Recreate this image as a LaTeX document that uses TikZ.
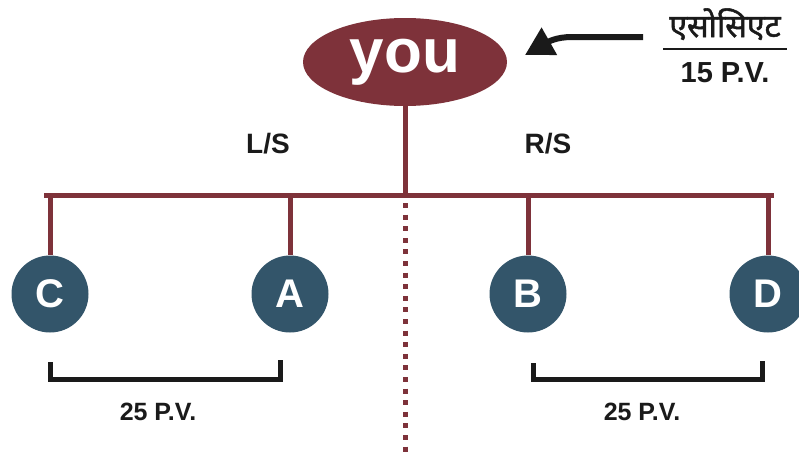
\documentclass[tikz,border=0pt]{standalone}
\usepackage{fontspec}
\setmainfont{Liberation Sans}
\newfontfamily\devfont[Script=Devanagari,FakeBold=1.6]{Noto Sans}
\usetikzlibrary{shapes.geometric,arrows.meta}
\definecolor{maroon}{HTML}{7E323A}
\definecolor{teal}{HTML}{33556A}
\definecolor{ink}{HTML}{1A1A1A}
\tikzset{
  x=1pt,y=-1pt,
  trunk/.style={draw=maroon,line width=5pt},
  dotline/.style={draw=maroon,line width=5pt,dash pattern=on 5pt off 6.6pt},
  member/.style={circle,fill=teal,minimum size=77pt,inner sep=0pt,text=white,font=\fontsize{40}{40}\selectfont\bfseries},
  bracket/.style={draw=ink,line width=5pt},
  lbl/.style={text=ink,font=\fontsize{25}{25}\selectfont\bfseries,inner sep=0pt},
  sidelbl/.style={text=ink,font=\fontsize{28}{28}\selectfont\bfseries,inner sep=0pt}
}
\begin{document}
\begin{tikzpicture}
\useasboundingbox (0,0) rectangle (799,453);
\node[ellipse,fill=maroon,minimum width=204pt,minimum height=88pt,inner sep=0pt,text=white,font=\fontsize{62}{62}\selectfont\bfseries] (you) at (405,62) {};
\node[text=white,font=\fontsize{62}{62}\selectfont\bfseries,inner sep=0pt,anchor=base] (youtxt) at (405,72) {you};
\coordinate (J) at (405,195);
\coordinate (BL) at (44,195);
\coordinate (BR) at (774,195);
\node[member] (C) at (50,294) {C};
\node[member] (A) at (290,294) {A};
\node[member] (B) at (528,294) {B};
\node[member] (D) at (768,294) {D};
\draw[trunk] (you.south) -- (J);
\draw[trunk] (BL) -- (BR);
\draw[trunk] (C|-J) -- (C);
\draw[trunk] (A|-J) -- (A);
\draw[trunk] (B|-J) -- (B);
\draw[trunk] (D|-J) -- (D);
\coordinate (DT) at (405,203);
\coordinate (DB) at (405,453);
\draw[dotline] (DT) -- (DB);
\node[sidelbl] (LS) at (268,144) {L/S};
\node[sidelbl] (RS) at (548,144) {R/S};
% brackets
\coordinate (b1a) at (50,362); \coordinate (b1b) at (50,379);
\coordinate (b1c) at (280,379); \coordinate (b1d) at (280,360);
\draw[bracket] (b1a) -- (b1b) -- (b1c) -- (b1d);
\coordinate (b2a) at (533,363); \coordinate (b2b) at (533,379);
\coordinate (b2c) at (762,379); \coordinate (b2d) at (762,361);
\draw[bracket] (b2a) -- (b2b) -- (b2c) -- (b2d);
\node[lbl] (pv1) at (158,412) {25 P.V.};
\node[lbl] (pv2) at (642,412) {25 P.V.};
% associate
\node[text=ink,font=\devfont\fontsize{32}{32}\selectfont,inner sep=0pt,anchor=base] (as) at (725,37) {एसोसिएट};
\coordinate (r1) at (663,49); \coordinate (r2) at (787,49);
\draw[draw=ink,line width=1.5pt] (r1) -- (r2);
\node[text=ink,font=\fontsize{29}{29}\selectfont\bfseries,inner sep=0pt] (pv3) at (725,73) {15 P.V.};
\coordinate (arrS) at (643,37);
\coordinate (arrT) at (525,55);
\draw[draw=ink,line width=6pt,-{Triangle[length=28pt,width=30pt]}] (arrS) -- (572,37) .. controls (556,37) and (548,42) .. (arrT);
\end{tikzpicture}
\end{document}
